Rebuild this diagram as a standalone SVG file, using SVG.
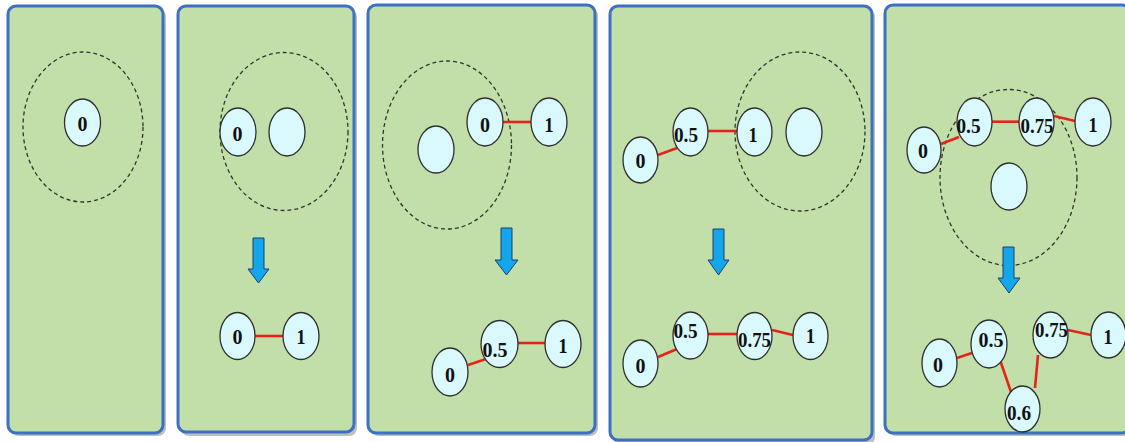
<svg xmlns="http://www.w3.org/2000/svg" width="1125" height="442" viewBox="0 0 1125 442">
<style>
.shadow{fill:#8a8a8a;opacity:0.55}
.panel{fill:#c3dfa9;stroke:#3b70c4;stroke-width:3}
.zone{fill:none;stroke:#333;stroke-width:1.3;stroke-dasharray:4 3}
.node{fill:#d9f9fc;stroke:#2f2f2f;stroke-width:1.3}
.lbl{font-family:"Liberation Serif","Times New Roman",serif;font-weight:bold;font-size:22px;fill:#111;text-anchor:middle}
.edge{stroke:#e5231b;stroke-width:2.6;fill:none}
.arrow{fill:#14a6ea;stroke:#1f3d6e;stroke-width:1}
</style>
<rect width="1125" height="442" fill="#ffffff"/>
<g id="panels">
  <rect class="shadow" x="11" y="9" width="155" height="427" rx="8"/>
  <rect class="panel" x="8" y="6" width="155" height="427" rx="8"/>
  <rect class="shadow" x="181" y="9" width="176" height="427" rx="8"/>
  <rect class="panel" x="178" y="6" width="176" height="426" rx="8"/>
  <rect class="shadow" x="371" y="8" width="227" height="428" rx="8"/>
  <rect class="panel" x="368" y="5" width="227" height="428" rx="8"/>
  <rect class="shadow" x="613" y="9" width="262" height="436" rx="8"/>
  <rect class="panel" x="610" y="6" width="262" height="434" rx="8"/>
  <rect class="shadow" x="888" y="8" width="245" height="428" rx="8"/>
  <rect class="panel" x="885" y="5" width="245" height="428" rx="8"/>
</g>
<g id="zones">
  <ellipse class="zone" cx="83" cy="127" rx="60" ry="75"/>
  <ellipse class="zone" cx="284" cy="131.5" rx="64" ry="79"/>
  <ellipse class="zone" cx="447" cy="145" rx="64.5" ry="84"/>
  <ellipse class="zone" cx="800" cy="131.5" rx="65" ry="79.5"/>
  <ellipse class="zone" cx="1008.5" cy="177.5" rx="68.5" ry="88"/>
</g>
<g id="connectors">
  <line class="edge" x1="255" y1="336" x2="283" y2="336"/>
  <line class="edge" x1="503" y1="122" x2="531" y2="122"/>
  <line class="edge" x1="468" y1="365" x2="486" y2="359"/>
  <line class="edge" x1="518" y1="343" x2="545" y2="343"/>
  <line class="edge" x1="658" y1="155" x2="677" y2="148"/>
  <line class="edge" x1="708" y1="131" x2="737" y2="131"/>
  <line class="edge" x1="658" y1="357" x2="677" y2="349"/>
  <line class="edge" x1="708" y1="334" x2="737" y2="334"/>
  <line class="edge" x1="772" y1="330" x2="793" y2="335"/>
  <line class="edge" x1="941" y1="144" x2="959" y2="137"/>
  <line class="edge" x1="992" y1="121.7" x2="1019" y2="121.7"/>
  <line class="edge" x1="1054" y1="116" x2="1075" y2="121"/>
  <line class="edge" x1="957" y1="358" x2="972" y2="353"/>
  <line class="edge" x1="1000" y1="360" x2="1011" y2="392"/>
  <line class="edge" x1="1035" y1="388" x2="1038" y2="355"/>
  <line class="edge" x1="1068" y1="330" x2="1091" y2="335"/>
</g>
<g id="arrows">
  <path class="arrow" d="M253,238 H264 V269 H269 L258.5,283 L248,269 H253 Z"/>
  <path class="arrow" d="M501,228 H512 V260 H518 L506.5,275 L495,260 H501 Z"/>
  <path class="arrow" d="M713,229 H724 V260 H729 L718.5,275 L708,260 H713 Z"/>
  <path class="arrow" d="M1003,247 H1014 V278 H1020 L1009,293 L998,278 H1003 Z"/>
</g>
<g id="p1-n0"><ellipse class="node" cx="82.5" cy="122.5" rx="18" ry="23.5"/><text class="lbl" x="82.5" y="131" textLength="10" lengthAdjust="spacingAndGlyphs">0</text></g>
<g id="p2-n0"><ellipse class="node" cx="238" cy="132" rx="18" ry="24"/><text class="lbl" x="237.5" y="140.5" textLength="10" lengthAdjust="spacingAndGlyphs">0</text></g>
<g id="p2-new"><ellipse class="node" cx="287" cy="132" rx="18" ry="24"/></g>
<g id="p2-b0"><ellipse class="node" cx="237.5" cy="336" rx="17.5" ry="23.5"/><text class="lbl" x="237.5" y="344" textLength="10" lengthAdjust="spacingAndGlyphs">0</text></g>
<g id="p2-b1"><ellipse class="node" cx="301" cy="336" rx="18" ry="23.5"/><text class="lbl" x="301" y="344" textLength="9" lengthAdjust="spacingAndGlyphs">1</text></g>
<g id="p3-new"><ellipse class="node" cx="436" cy="149.5" rx="18" ry="23.5"/></g>
<g id="p3-n0"><ellipse class="node" cx="485" cy="122" rx="18" ry="24"/><text class="lbl" x="485" y="132" textLength="10" lengthAdjust="spacingAndGlyphs">0</text></g>
<g id="p3-n1"><ellipse class="node" cx="549" cy="122" rx="18" ry="24"/><text class="lbl" x="549" y="132" textLength="9" lengthAdjust="spacingAndGlyphs">1</text></g>
<g id="p3-b0"><ellipse class="node" cx="450" cy="372" rx="18" ry="24"/><text class="lbl" x="450" y="382" textLength="10" lengthAdjust="spacingAndGlyphs">0</text></g>
<g id="p3-b05"><ellipse class="node" cx="499.5" cy="344" rx="18.5" ry="23.5"/><text class="lbl" x="495" y="357" textLength="25" lengthAdjust="spacingAndGlyphs">0.5</text></g>
<g id="p3-b1"><ellipse class="node" cx="563" cy="344" rx="18" ry="23.5"/><text class="lbl" x="563" y="353" textLength="9" lengthAdjust="spacingAndGlyphs">1</text></g>
<g id="p4-n0"><ellipse class="node" cx="640.5" cy="160" rx="17.5" ry="23"/><text class="lbl" x="640.5" y="168" textLength="10" lengthAdjust="spacingAndGlyphs">0</text></g>
<g id="p4-n05"><ellipse class="node" cx="690.5" cy="132" rx="17.5" ry="24"/><text class="lbl" x="686" y="142" textLength="24" lengthAdjust="spacingAndGlyphs">0.5</text></g>
<g id="p4-n1"><ellipse class="node" cx="754.5" cy="132" rx="17.5" ry="24"/><text class="lbl" x="753" y="142" textLength="9" lengthAdjust="spacingAndGlyphs">1</text></g>
<g id="p4-new"><ellipse class="node" cx="804" cy="132" rx="18" ry="24"/></g>
<g id="p4-b0"><ellipse class="node" cx="640.5" cy="363.5" rx="17.5" ry="23.5"/><text class="lbl" x="640.5" y="373" textLength="10" lengthAdjust="spacingAndGlyphs">0</text></g>
<g id="p4-b05"><ellipse class="node" cx="690.5" cy="335.5" rx="17.5" ry="23.5"/><text class="lbl" x="685.5" y="338" textLength="24" lengthAdjust="spacingAndGlyphs">0.5</text></g>
<g id="p4-b075"><ellipse class="node" cx="754.5" cy="336" rx="17.5" ry="23.5"/><text class="lbl" x="754.5" y="347" textLength="33" lengthAdjust="spacingAndGlyphs">0.75</text></g>
<g id="p4-b1"><ellipse class="node" cx="810.5" cy="336" rx="17.5" ry="23.5"/><text class="lbl" x="810.5" y="343" textLength="9" lengthAdjust="spacingAndGlyphs">1</text></g>
<g id="p5-n0"><ellipse class="node" cx="924" cy="150" rx="17" ry="23"/><text class="lbl" x="923" y="158" textLength="10" lengthAdjust="spacingAndGlyphs">0</text></g>
<g id="p5-n05"><ellipse class="node" cx="974.5" cy="122" rx="17.5" ry="24"/><text class="lbl" x="968.5" y="133" textLength="24" lengthAdjust="spacingAndGlyphs">0.5</text></g>
<g id="p5-n075"><ellipse class="node" cx="1036.5" cy="122" rx="17.5" ry="24"/><text class="lbl" x="1037" y="133" textLength="33" lengthAdjust="spacingAndGlyphs">0.75</text></g>
<g id="p5-n1"><ellipse class="node" cx="1093" cy="122" rx="18" ry="24"/><text class="lbl" x="1093" y="132" textLength="9" lengthAdjust="spacingAndGlyphs">1</text></g>
<g id="p5-new"><ellipse class="node" cx="1009" cy="186.5" rx="18" ry="23.5"/></g>
<g id="p5-b0"><ellipse class="node" cx="939.5" cy="363" rx="17.5" ry="24"/><text class="lbl" x="938" y="372" textLength="10" lengthAdjust="spacingAndGlyphs">0</text></g>
<g id="p5-b05"><ellipse class="node" cx="989" cy="344" rx="18" ry="24"/><text class="lbl" x="991" y="347" textLength="25" lengthAdjust="spacingAndGlyphs">0.5</text></g>
<g id="p5-b075"><ellipse class="node" cx="1050.5" cy="335" rx="17.5" ry="23"/><text class="lbl" x="1051.5" y="337" textLength="33" lengthAdjust="spacingAndGlyphs">0.75</text></g>
<g id="p5-b1"><ellipse class="node" cx="1108.5" cy="335" rx="17.5" ry="23"/><text class="lbl" x="1108" y="344" textLength="9" lengthAdjust="spacingAndGlyphs">1</text></g>
<g id="p5-b06"><ellipse class="node" cx="1022.5" cy="409" rx="17.5" ry="23"/><text class="lbl" x="1019" y="420" textLength="24" lengthAdjust="spacingAndGlyphs">0.6</text></g>
</svg>
